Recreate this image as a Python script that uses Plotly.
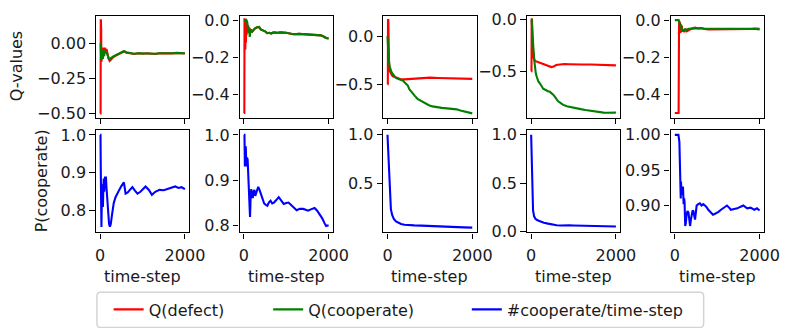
import plotly.graph_objects as go

W, H = 795, 328

# ---------------- data ----------------
# Panel 1
p1_red_t = [0, 10, 14, 18, 24, 28, 35, 45, 55, 65, 80, 95, 110, 130, 150, 175, 200, 225, 250, 300, 350, 400, 450, 500, 560, 620, 700, 800, 900, 1000, 1100, 1200, 1300, 1400, 1500, 1600, 1700, 1800, 1900, 2000]
p1_red = [-0.50, -0.50, 0.165, 0.165, 0.10, -0.13, -0.04, -0.10, -0.03, -0.08, -0.03, -0.06, -0.03, -0.05, -0.04, -0.08, -0.11, -0.125, -0.115, -0.10, -0.09, -0.08, -0.075, -0.066, -0.056, -0.066, -0.07, -0.075, -0.07, -0.073, -0.07, -0.072, -0.075, -0.07, -0.072, -0.07, -0.071, -0.068, -0.068, -0.072]
p1_green_t = [0, 10, 14, 18, 24, 28, 35, 45, 55, 65, 80, 95, 110, 130, 150, 175, 200, 225, 250, 300, 350, 400, 450, 500, 560, 620, 700, 800, 900, 1000, 1100, 1200, 1300, 1400, 1500, 1600, 1700, 1800, 1900, 2000]
p1_green = [0.0, 0.0, -0.02, -0.10, -0.12, -0.06, -0.04, -0.09, -0.05, -0.11, -0.06, -0.09, -0.05, -0.07, -0.06, -0.09, -0.105, -0.115, -0.105, -0.095, -0.085, -0.078, -0.072, -0.063, -0.055, -0.063, -0.068, -0.073, -0.07, -0.072, -0.07, -0.071, -0.073, -0.07, -0.071, -0.069, -0.07, -0.067, -0.067, -0.07]
p1_blue_t = [0, 8, 15, 22, 30, 38, 46, 55, 65, 75, 85, 95, 105, 115, 125, 135, 150, 170, 190, 210, 230, 250, 280, 320, 360, 400, 450, 500, 560, 600, 650, 700, 760, 820, 880, 950, 1000, 1070, 1150, 1220, 1300, 1400, 1500, 1600, 1700, 1770, 1850, 1920, 2000]
p1_blue = [1.0, 1.0, 0.90, 0.80, 0.757, 0.82, 0.87, 0.85, 0.81, 0.86, 0.885, 0.85, 0.88, 0.89, 0.875, 0.89, 0.86, 0.83, 0.79, 0.765, 0.758, 0.765, 0.79, 0.82, 0.835, 0.845, 0.855, 0.865, 0.875, 0.845, 0.848, 0.855, 0.862, 0.853, 0.845, 0.85, 0.855, 0.864, 0.855, 0.842, 0.85, 0.855, 0.854, 0.857, 0.86, 0.864, 0.86, 0.862, 0.857]

# Panel 2
p2_red_t = [0, 12, 16, 22, 28, 35, 42, 50, 58, 66, 75, 90, 105, 120, 140, 160, 180, 200, 230, 260, 300, 360, 400, 450, 500, 550, 600, 650, 700, 800, 860, 1000, 1100, 1170, 1300, 1400, 1500, 1630, 1700, 1820, 1880, 1940, 2000]
p2_red = [-0.5, -0.5, 0.01, -0.03, 0.005, -0.16, -0.02, -0.12, 0.0, -0.08, -0.02, -0.06, -0.03, -0.05, -0.045, -0.06, -0.055, -0.062, -0.05, -0.045, -0.04, -0.037, -0.05, -0.055, -0.06, -0.07, -0.068, -0.072, -0.066, -0.068, -0.066, -0.068, -0.072, -0.076, -0.074, -0.076, -0.077, -0.079, -0.078, -0.082, -0.088, -0.096, -0.099]
p2_green_t = [0, 20, 40, 60, 80, 95, 110, 125, 140, 160, 180, 200, 230, 260, 300, 360, 400, 450, 500, 550, 600, 650, 700, 800, 860, 1000, 1100, 1170, 1300, 1400, 1500, 1630, 1700, 1820, 1880, 1940, 2000]
p2_green = [0.0, 0.0, -0.005, 0.0, -0.01, -0.03, -0.07, -0.04, -0.09, -0.05, -0.065, -0.06, -0.05, -0.045, -0.04, -0.037, -0.05, -0.055, -0.06, -0.07, -0.068, -0.072, -0.066, -0.068, -0.066, -0.068, -0.072, -0.076, -0.074, -0.076, -0.077, -0.079, -0.078, -0.082, -0.088, -0.096, -0.099]
p2_blue_t = [0, 15, 25, 35, 45, 60, 75, 90, 105, 120, 135, 146, 160, 175, 190, 210, 230, 250, 270, 290, 320, 340, 370, 400, 440, 480, 520, 555, 590, 630, 670, 710, 760, 823, 880, 940, 1000, 1054, 1110, 1170, 1246, 1320, 1400, 1460, 1515, 1580, 1670, 1730, 1785, 1850, 1900, 1940, 2000]
p2_blue = [1.0, 1.0, 0.93, 0.96, 0.975, 0.93, 0.95, 0.945, 0.90, 0.87, 0.83, 0.818, 0.86, 0.88, 0.87, 0.86, 0.875, 0.878, 0.865, 0.87, 0.88, 0.885, 0.878, 0.87, 0.86, 0.848, 0.845, 0.843, 0.85, 0.854, 0.848, 0.85, 0.855, 0.862, 0.855, 0.847, 0.849, 0.85, 0.845, 0.84, 0.833, 0.836, 0.836, 0.834, 0.832, 0.835, 0.838, 0.832, 0.825, 0.815, 0.805, 0.798, 0.80]

# Panel 3
p3_red_t = [0, 8, 12, 20, 28, 40, 60, 80, 110, 140, 170, 220, 280, 330, 400, 480, 560, 650, 750, 860, 1000, 1200, 1400, 1600, 1800, 2000]
p3_red = [-0.5, -0.5, 0.17, 0.17, -0.05, -0.32, -0.37, -0.39, -0.41, -0.42, -0.425, -0.44, -0.445, -0.45, -0.45, -0.447, -0.442, -0.438, -0.435, -0.432, -0.432, -0.435, -0.437, -0.44, -0.44, -0.445]
p3_green_t = [0, 15, 30, 54, 77, 92, 110, 130, 170, 208, 250, 285, 330, 370, 400, 438, 480, 515, 550, 592, 650, 708, 760, 823, 900, 977, 1060, 1170, 1280, 1400, 1520, 1630, 1720, 1820, 1910, 2000]
p3_green = [0.0, -0.19, -0.25, -0.32, -0.36, -0.37, -0.385, -0.40, -0.42, -0.437, -0.445, -0.453, -0.46, -0.465, -0.48, -0.493, -0.515, -0.553, -0.575, -0.60, -0.625, -0.653, -0.665, -0.687, -0.705, -0.72, -0.732, -0.743, -0.748, -0.753, -0.758, -0.763, -0.775, -0.787, -0.797, -0.805]
p3_blue_t = [0, 10, 20, 30, 45, 60, 80, 110, 150, 200, 250, 320, 400, 500, 630, 800, 1000, 1200, 1400, 1600, 1800, 2000]
p3_blue = [1.0, 0.9, 0.75, 0.6, 0.42, 0.31, 0.24, 0.18, 0.14, 0.115, 0.10, 0.088, 0.08, 0.075, 0.073, 0.071, 0.066, 0.062, 0.058, 0.055, 0.053, 0.05]

# Panel 4
p4_red_t = [0, 8, 12, 20, 30, 54, 92, 150, 208, 280, 360, 420, 477, 530, 590, 680, 785, 900, 1015, 1200, 1400, 1600, 1800, 2000]
p4_red = [-0.5, -0.5, 0.0, 0.0, -0.2, -0.367, -0.40, -0.41, -0.42, -0.43, -0.444, -0.452, -0.46, -0.455, -0.44, -0.435, -0.43, -0.432, -0.435, -0.435, -0.435, -0.437, -0.44, -0.444]
p4_green_t = [0, 12, 20, 30, 54, 75, 92, 110, 130, 170, 208, 250, 285, 330, 362, 400, 440, 477, 515, 554, 600, 630, 700, 746, 840, 938, 1050, 1170, 1280, 1400, 1500, 1600, 1708, 1800, 1900, 2000]
p4_green = [0.0, 0.0, -0.05, -0.18, -0.28, -0.40, -0.47, -0.52, -0.55, -0.60, -0.62, -0.65, -0.67, -0.68, -0.69, -0.695, -0.70, -0.71, -0.725, -0.745, -0.77, -0.79, -0.81, -0.825, -0.84, -0.85, -0.86, -0.868, -0.876, -0.884, -0.89, -0.895, -0.902, -0.903, -0.9, -0.902]
p4_blue_t = [0, 10, 20, 30, 45, 70, 100, 150, 200, 300, 400, 500, 600, 700, 800, 900, 1000, 1200, 1400, 1600, 1800, 2000]
p4_blue = [1.0, 0.85, 0.55, 0.35, 0.22, 0.16, 0.135, 0.12, 0.11, 0.095, 0.085, 0.075, 0.068, 0.066, 0.07, 0.068, 0.066, 0.064, 0.06, 0.058, 0.056, 0.055]

# Panel 5
p5_red_t = [0, 90, 100, 110, 120, 130, 140, 150, 165, 180, 200, 225, 250, 285, 323, 360, 400, 477, 550, 630, 700, 800, 860, 950, 1090, 1200, 1300, 1400, 1500, 1600, 1708, 1800, 1900, 2000]
p5_red = [-0.5, -0.5, 0.0, -0.06, -0.01, -0.07, -0.02, -0.065, -0.03, -0.06, -0.05, -0.065, -0.046, -0.06, -0.055, -0.048, -0.045, -0.04, -0.045, -0.042, -0.048, -0.05, -0.05, -0.047, -0.048, -0.05, -0.046, -0.05, -0.048, -0.046, -0.047, -0.048, -0.045, -0.047]
p5_green_t = [0, 90, 110, 130, 150, 170, 190, 208, 240, 280, 330, 400, 480, 585, 700, 800, 900, 1000, 1100, 1200, 1300, 1400, 1500, 1600, 1700, 1800, 1900, 2000]
p5_green = [0.0, 0.0, -0.01, -0.045, -0.03, -0.06, -0.05, -0.06, -0.05, -0.052, -0.047, -0.045, -0.042, -0.043, -0.046, -0.047, -0.045, -0.047, -0.046, -0.048, -0.046, -0.047, -0.045, -0.046, -0.047, -0.046, -0.047, -0.05]
p5_blue_t = [0, 85, 108, 120, 130, 140, 146, 155, 170, 180, 192, 208, 220, 230, 246, 260, 280, 300, 323, 345, 360, 380, 400, 420, 438, 460, 477, 500, 515, 553, 590, 630, 670, 710, 746, 790, 823, 870, 900, 940, 977, 1030, 1090, 1150, 1230, 1280, 1323, 1400, 1477, 1540, 1615, 1660, 1708, 1785, 1830, 1877, 1938, 2000]
p5_blue = [1.0, 1.0, 0.99, 0.965, 0.95, 0.91, 0.934, 0.92, 0.925, 0.915, 0.927, 0.902, 0.91, 0.905, 0.871, 0.875, 0.888, 0.892, 0.89, 0.877, 0.871, 0.88, 0.887, 0.893, 0.892, 0.885, 0.88, 0.892, 0.90, 0.902, 0.903, 0.90, 0.902, 0.9, 0.898, 0.894, 0.892, 0.889, 0.887, 0.888, 0.889, 0.891, 0.894, 0.897, 0.90, 0.897, 0.894, 0.895, 0.896, 0.898, 0.90, 0.898, 0.896, 0.897, 0.895, 0.894, 0.896, 0.893]

# tick labels
x_tickvals = [0, 2000]
x_ticktext = ["0", "2000"]
q_tickvals = [[0, -0.25, -0.5], [0, -0.2, -0.4], [0, -0.5], [0, -0.5], [0, -0.2, -0.4]]
q_ticktext = [["0.00", "\u22120.25", "\u22120.50"], ["0.0", "\u22120.2", "\u22120.4"],
              ["0.0", "\u22120.5"], ["0.0", "\u22120.5"], ["0.0", "\u22120.2", "\u22120.4"]]
p_tickvals = [[1.0, 0.9, 0.8], [1.0, 0.9, 0.8], [1.0, 0.5], [1.0, 0.5, 0.0], [1.0, 0.95, 0.9]]
p_ticktext = [["1.0", "0.9", "0.8"], ["1.0", "0.9", "0.8"], ["1.0", "0.5"],
              ["1.0", "0.5", "0.0"], ["1.00", "0.95", "0.90"]]

legend_names = ["Q(defect)", "Q(cooperate)", "#cooperate/time-step"]
x_title = "time-step"
y_titles = ["Q-values", "P(cooperate)"]

# ---------------- layout geometry (pixels) ----------------
col_left = [97.0, 243.8, 390.6, 537.4, 684.2]
col_w = 95.3
row_top = [11.0, 130.7]
row_bot = [117.6, 237.5]
q_ranges = [[-0.53, 0.2], [-0.525, 0.025], [-0.849, 0.217], [-0.95, 0.04], [-0.525, 0.025]]
p_ranges = [[0.743, 1.0126], [0.784, 1.0106], [0.002, 1.048], [-0.005, 1.048], [0.862, 1.0067]]

RED, GREEN, BLUE = "#ff0000", "#008000", "#0000ff"
FONT = dict(family="DejaVu Sans", size=16, color="#1a1a1a")
LW = 2.1


def px_x(p):
    return p / W


def px_y(p):
    return 1 - p / H


panels_q = [
    (p1_red_t, p1_red, p1_green_t, p1_green),
    (p2_red_t, p2_red, p2_green_t, p2_green),
    (p3_red_t, p3_red, p3_green_t, p3_green),
    (p4_red_t, p4_red, p4_green_t, p4_green),
    (p5_red_t, p5_red, p5_green_t, p5_green),
]
panels_p = [(p1_blue_t, p1_blue), (p2_blue_t, p2_blue), (p3_blue_t, p3_blue),
            (p4_blue_t, p4_blue), (p5_blue_t, p5_blue)]

fig = go.Figure()
layout = dict(
    width=W, height=H, margin=dict(l=0, r=0, t=0, b=0),
    paper_bgcolor="white", plot_bgcolor="white", font=FONT,
    showlegend=True,
)


def axis_common():
    return dict(showline=True, linecolor="black", linewidth=1.3, mirror=True,
                ticks="outside", ticklen=5.5, tickwidth=1.3, tickcolor="black",
                showgrid=False, zeroline=False, tickfont=FONT)


for r in range(2):
    for c in range(5):
        i = r * 5 + c
        n = i + 1
        xa = "x" if n == 1 else f"x{n}"
        ya = "y" if n == 1 else f"y{n}"
        xkey = "xaxis" if n == 1 else f"xaxis{n}"
        ykey = "yaxis" if n == 1 else f"yaxis{n}"
        xd = axis_common()
        xd.update(domain=[px_x(col_left[c]), px_x(col_left[c] + col_w)],
                  range=[-100, 2100], anchor=ya,
                  tickvals=x_tickvals, ticktext=x_ticktext,
                  showticklabels=(r == 1), ticklabelstandoff=3)
        yd = axis_common()
        yd.update(domain=[px_y(row_bot[r]), px_y(row_top[r])], anchor=xa)
        if r == 0:
            yd.update(range=q_ranges[c], tickvals=q_tickvals[c], ticktext=q_ticktext[c])
            rt, rv, gt, gv = panels_q[c]
            fig.add_trace(go.Scatter(x=rt, y=rv, xaxis=xa, yaxis=ya, mode="lines",
                                     line=dict(color=RED, width=LW), name=legend_names[0],
                                     legend="legend", showlegend=(c == 0)))
            fig.add_trace(go.Scatter(x=gt, y=gv, xaxis=xa, yaxis=ya, mode="lines",
                                     line=dict(color=GREEN, width=LW), name=legend_names[1],
                                     legend="legend2", showlegend=(c == 0)))
        else:
            yd.update(range=p_ranges[c], tickvals=p_tickvals[c], ticktext=p_ticktext[c])
            bt, bv = panels_p[c]
            fig.add_trace(go.Scatter(x=bt, y=bv, xaxis=xa, yaxis=ya, mode="lines",
                                     line=dict(color=BLUE, width=LW), name=legend_names[2],
                                     legend="legend3", showlegend=(c == 0)))
        layout[xkey] = xd
        layout[ykey] = yd

# legends (one per entry, placed like the matplotlib legend columns)
leg_text_y = 318
leg_x = [110, 273, 476]
for k, key in enumerate(["legend", "legend2", "legend3"]):
    layout[key] = dict(x=px_x(leg_x[k]), y=px_y(leg_text_y), xanchor="left", yanchor="middle",
                       orientation="h", bgcolor="rgba(0,0,0,0)", borderwidth=0,
                       font=FONT, itemwidth=30, tracegroupgap=0)

# legend frame (rounded)
x0, x1, y0, y1, rad = 98, 718, 300, 337, 4
rx, ry = rad / W, rad / H
X0, X1, Y0, Y1 = px_x(x0), px_x(x1), px_y(y0), px_y(y1)
path = (f"M{X0+rx},{Y0} L{X1-rx},{Y0} Q{X1},{Y0} {X1},{Y0-ry} L{X1},{Y1+ry} Q{X1},{Y1} {X1-rx},{Y1} "
        f"L{X0+rx},{Y1} Q{X0},{Y1} {X0},{Y1+ry} L{X0},{Y0-ry} Q{X0},{Y0} {X0+rx},{Y0} Z")
layout["shapes"] = [dict(type="path", path=path, xref="paper", yref="paper",
                         line=dict(color="#d4d4d4", width=1.5), fillcolor="rgba(255,255,255,0.8)",
                         layer="below")]

# axis titles as annotations
ann = []
for c in range(5):
    ann.append(dict(text=x_title, x=px_x(col_left[c] + col_w / 2), y=px_y(284),
                    xref="paper", yref="paper", showarrow=False, xanchor="center",
                    yanchor="middle", font=FONT))
ann.append(dict(text=y_titles[0], x=px_x(16), y=px_y((row_top[0] + row_bot[0]) / 2),
                xref="paper", yref="paper", showarrow=False, textangle=-90,
                xanchor="center", yanchor="middle", font=FONT))
ann.append(dict(text=y_titles[1], x=px_x(41), y=px_y((row_top[1] + row_bot[1]) / 2),
                xref="paper", yref="paper", showarrow=False, textangle=-90,
                xanchor="center", yanchor="middle", font=FONT))
layout["annotations"] = ann

fig.update_layout(**layout)
fig.write_html("out.html")
